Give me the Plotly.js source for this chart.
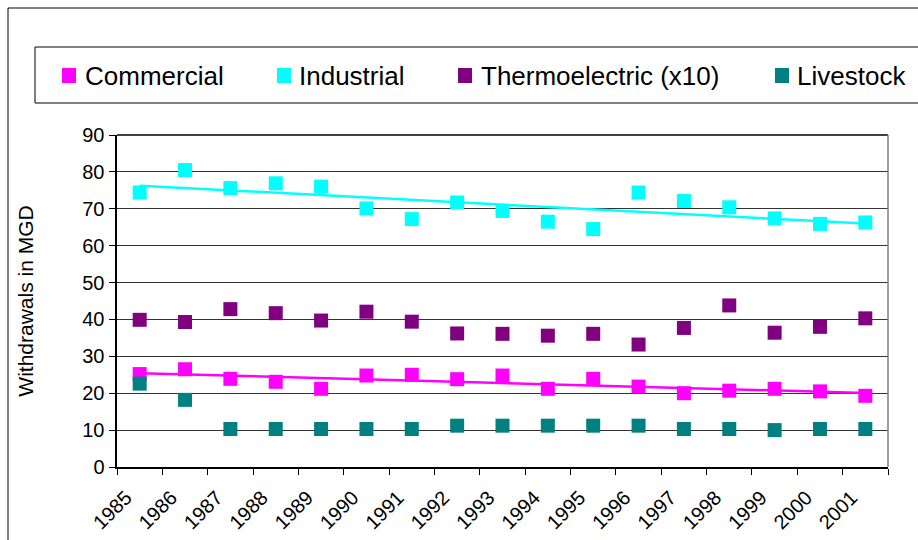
<!DOCTYPE html>
<html>
<head>
<meta charset="utf-8">
<script src="https://cdn.plot.ly/plotly-3.0.1.min.js"></script>
<style>html,body{margin:0;padding:0;background:#fff;}#chart{width:918px;height:540px;}</style>
</head>
<body>
<div id="chart"></div>
<script>
// ---- data ----
const years = ["1985","1986","1987","1988","1989","1990","1991","1992","1993","1994","1995","1996","1997","1998","1999","2000","2001"];
const commercial = [25.2,26.5,23.9,23.1,21.2,24.8,25.0,23.8,24.8,21.2,23.9,21.8,20.0,20.7,21.2,20.5,19.3];
const industrial = [74.4,80.5,75.6,76.9,76.0,70.1,67.2,71.7,69.4,66.5,64.5,74.4,72.1,70.4,67.4,65.9,66.3];
const thermoelectric = [39.9,39.3,42.8,41.7,39.7,42.1,39.4,36.2,36.1,35.6,36.1,33.2,37.7,43.8,36.4,38.0,40.3];
const livestock = [22.6,18.2,10.3,10.3,10.3,10.3,10.3,11.2,11.2,11.2,11.2,11.2,10.3,10.3,10.0,10.3,10.3];
const seriesNames = ["Commercial","Industrial","Thermoelectric (x10)","Livestock"];
const seriesColors = ["#FF00FF","#00FFFF","#800080","#008080"];

// category centres sit between tick boundaries
const xc = years.map((y,i)=>i+0.5);

function linFit(xs, ys){
  const n = xs.length;
  let sx=0,sy=0,sxx=0,sxy=0;
  for(let i=0;i<n;i++){sx+=xs[i];sy+=ys[i];sxx+=xs[i]*xs[i];sxy+=xs[i]*ys[i];}
  const b=(n*sxy-sx*sy)/(n*sxx-sx*sx);
  const a=(sy-b*sx)/n;
  const x0=xs[0], x1=xs[n-1];
  return {x:[x0,x1], y:[a+b*x0, a+b*x1]};
}
const trendC = linFit(xc, commercial);
const trendI = linFit(xc, industrial);

const L=117, R=888, T=135, B=467;
const W=918, H=540;
const px=(p)=>(p-L)/(R-L);
const py=(p)=>(B-p)/(B-T);

const font = "Liberation Sans, Arial, sans-serif";

const traces = [
  {x:trendI.x, y:trendI.y, mode:"lines", line:{color:seriesColors[1], width:2.5}, hoverinfo:"skip", showlegend:false},
  {x:trendC.x, y:trendC.y, mode:"lines", line:{color:seriesColors[0], width:2.5}, hoverinfo:"skip", showlegend:false},
];
const allSeries=[commercial, industrial, thermoelectric, livestock];
allSeries.forEach((s,k)=>{
  traces.push({x:xc, y:s, name:seriesNames[k], mode:"markers",
    marker:{symbol:"square", size:14, color:seriesColors[k], line:{width:0}}, showlegend:false});
});

const shapes = [
  // outer chart border
  {type:"rect", xref:"paper", yref:"paper", x0:px(8), x1:px(940), y0:py(8), y1:py(560), line:{color:"#000", width:1}, fillcolor:"rgba(0,0,0,0)", layer:"below"},
  // legend box
  {type:"rect", xref:"paper", yref:"paper", x0:px(35), x1:px(940), y0:py(47), y1:py(103), line:{color:"#000", width:1}, fillcolor:"rgba(0,0,0,0)"},
  // plot top & right border
  {type:"line", xref:"paper", yref:"paper", x0:0, x1:1, y0:1, y1:1, line:{color:"#000", width:1.5}},
  {type:"line", xref:"paper", yref:"paper", x0:1, x1:1, y0:0, y1:1, line:{color:"#808080", width:1.5}},
];
const legendSq = [62, 277, 458, 775];
const legendTx = [83, 297, 479, 795];
const annotations = [];
seriesNames.forEach((n,k)=>{
  shapes.push({type:"rect", xref:"paper", yref:"paper", x0:px(legendSq[k]), x1:px(legendSq[k]+14), y0:py(68), y1:py(83),
    fillcolor:seriesColors[k], line:{width:0}});
  annotations.push({xref:"paper", yref:"paper", x:px(legendTx[k]), y:py(76), xanchor:"left", yanchor:"middle",
    text:n, showarrow:false, font:{family:font, size:26, color:"#000"}});
});

const layout = {
  width:W, height:H,
  margin:{l:L, r:W-R, t:T, b:H-B},
  paper_bgcolor:"#fff", plot_bgcolor:"#fff",
  showlegend:false,
  font:{family:font, color:"#000"},
  xaxis:{range:[0,17], tickvals:years.map((y,i)=>i).concat([17]), ticktext:years.concat([""]),
    tickangle:-45, tickfont:{family:font, size:20, color:"#000"},
    ticks:"outside", ticklen:6, tickcolor:"#000", tickwidth:1,
    showgrid:false, zeroline:false, showline:true, linecolor:"#000", linewidth:2,
    ticklabelshift:9, ticklabelstandoff:3, fixedrange:true},
  yaxis:{range:[0,90], dtick:10, tick0:0, tickfont:{family:font, size:20, color:"#000"},
    ticks:"outside", ticklen:6, tickcolor:"#000", tickwidth:1,
    showgrid:true, gridcolor:"#333", gridwidth:1, zeroline:false,
    showline:true, linecolor:"#000", linewidth:2.5,
    title:{text:"Withdrawals in MGD", font:{family:font, size:21, color:"#000"}, standoff:43},
    fixedrange:true},
  shapes:shapes,
  annotations:annotations
};
Plotly.newPlot("chart", traces, layout, {staticPlot:true, displayModeBar:false});
</script>
</body>
</html>
